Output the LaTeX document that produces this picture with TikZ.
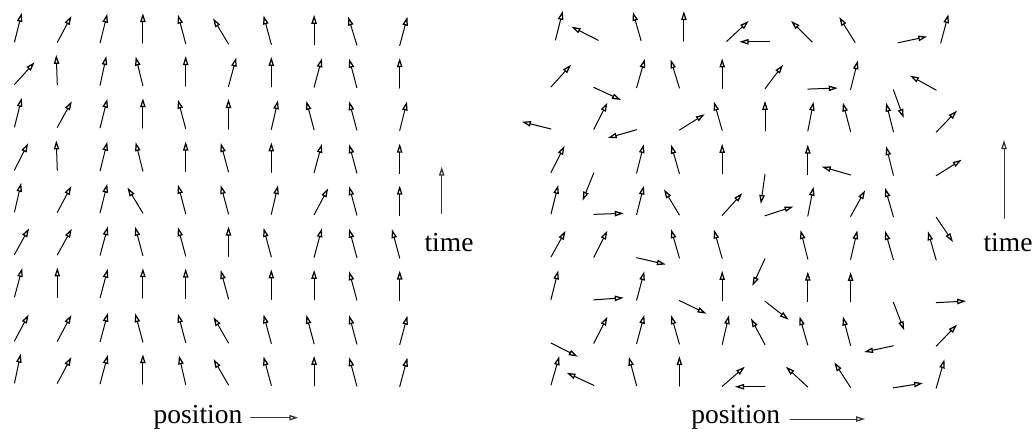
\documentclass[tikz,border=0pt]{standalone}
\usepackage{fontspec}
\setmainfont{Liberation Serif}
\usetikzlibrary{arrows.meta}
\tikzset{
  vec/.style={line width=1pt, line cap=round,
    -{Triangle[open,length=9pt,width=5.4pt,line width=1.25pt]}},
  axisarrow/.style={vec, draw=black!80},
  lbl/.style={font=\fontsize{27.5}{30}\selectfont, inner sep=0pt, anchor=base}
}
\begin{document}
\begin{tikzpicture}[x=1pt,y=-1pt]
\useasboundingbox (0,0) rectangle (1034,432);
% y grows downwards, so a direction of angle a (counter-clockwise, up = 90) is (-a:30)

% ordered field: one row of directions per time step (tail on the grid point)
\foreach \yy/\angs in {
  42/{76,62,76,90,105,121,105,90,107,75},
  84.5/{48,92,78,104,90,75,90,75,105,90},
  127/{76,61,76,90,105,90,77,105,105,76},
  170/{63,92,76,104,90,105,90,75,105,90},
  212/{77,62,76,121,105,105,77,62,105,90},
  254.5/{61,61,75,105,105,90,105,75,105,105},
  297/{75,90,75,90,90,105,90,90,105,90},
  341/{62,62,75,105,105,120,105,105,105,75},
  383/{78,62,75,90,103,120,105,90,105,75}} {
  \foreach \a [count=\i from 0] in \angs {
    \draw[vec] ({14.5+42.8*\i},{\yy+0.4*\i}) -- ++(-\a:30);
  }
}

% disordered field
\foreach \dx/\yy/\angs in {
  4.5/40/{76,153,106,90,43,180,135,122,12,75},
  0/87/{48,335,74,107,90,53,2,76,290,151},
  0/129/{166,63,196,32,106,90,79,105,104,46},
  0/172.5/{63,248,76,106,90,262,90,164,104,32},
  0/214/{76,2,76,121,48,18,79,61,106,304},
  0/257/{61,63,347,106,106,245,104,77,106,106},
  0/299.5/{76,4,75,334,90,322,90,90,291,3},
  0/343/{333,63,75,106,77,118,106,105,192,46},
  0/385/{74,155,105,90,41,180,137,123,9,74}} {
  \foreach \a [count=\i from 0] in \angs {
    \draw[vec] ({551+\dx+42.8*\i},{\yy+0.35*\i}) -- ++(-\a:30);
  }
}

% axis labels, left panel
\coordinate (tL0) at (441.7,213.3);
\coordinate (tL1) at (441.7,166.7);
\draw[axisarrow] (tL0) -- (tL1);
\node[lbl] (timeL) at (449,251.7) {time};
\node[lbl] (posL) at (198,423) {position};
\coordinate (pL0) at (250.7,417.7);
\coordinate (pL1) at (298.3,417.7);
\draw[axisarrow] (pL0) -- (pL1);

% axis labels, right panel
\coordinate (tR0) at (1004,218.3);
\coordinate (tR1) at (1004,140);
\draw[axisarrow] (tR0) -- (tR1);
\node[lbl] (timeR) at (1008,251.7) {time};
\node[lbl] (posR) at (735.7,423) {position};
\coordinate (pR0) at (790,419);
\coordinate (pR1) at (865,419);
\draw[axisarrow] (pR0) -- (pR1);
\end{tikzpicture}
\end{document}
